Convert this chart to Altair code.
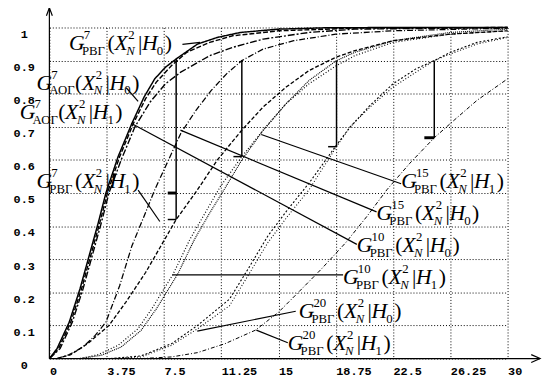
import altair as alt
import pandas as pd

# ---------------- geometry of the plot area ----------------
X_MAX = 30.0
PLOT_W, PLOT_H = 465, 336
DX = X_MAX / PLOT_W      # data units per pixel (x)
DY = 1.0 / PLOT_H        # data units per pixel (y)

x_ticks = [0, 3.75, 7.5, 11.25, 15, 18.75, 22.5, 26.25, 30]
y_ticks = [0, 0.1, 0.2, 0.3, 0.4, 0.5, 0.6, 0.7, 0.8, 0.9, 1]

# ---------------- curves ----------------
g7_rvg_h0_x = [0, 0.5, 1.3, 2.0, 2.6, 3.2, 3.7, 4.5, 5.4, 6.2, 6.9, 7.6, 8.3, 9.7, 11.0, 12.5, 15.0, 18.0, 22.5, 30.0]
g7_rvg_h0_y = [0, 0.03, 0.11, 0.21, 0.31, 0.41, 0.50, 0.61, 0.71, 0.79, 0.845, 0.88, 0.905, 0.95, 0.97, 0.985, 0.995, 0.999, 1.0, 1.0]

g7_aog_h0_x = [0, 0.6, 1.4, 2.1, 2.7, 3.3, 3.8, 4.6, 5.5, 6.3, 7.0, 8.0, 9.0, 10.5, 12.0, 15.0, 20.0, 30.0]
g7_aog_h0_y = [0, 0.03, 0.11, 0.21, 0.31, 0.41, 0.50, 0.61, 0.71, 0.785, 0.835, 0.885, 0.925, 0.955, 0.975, 0.99, 0.998, 1.0]

g7_aog_h1_x = [0, 0.7, 1.5, 2.2, 2.8, 3.4, 3.9, 4.7, 5.6, 6.6, 7.6, 8.6, 10.5, 12.0, 14.0, 17.0, 20.0, 30.0]
g7_aog_h1_y = [0, 0.03, 0.11, 0.21, 0.31, 0.41, 0.50, 0.60, 0.70, 0.775, 0.83, 0.865, 0.915, 0.94, 0.965, 0.985, 0.995, 1.0]

g7_rvg_h1_x = [0.5, 1.4, 2.5, 3.9, 5.0, 6.3, 7.3, 8.3, 9.7, 11.0, 12.6, 14.0, 15.5, 17.0, 18.75, 20.0, 22.5, 26.25, 30.0]
g7_rvg_h1_y = [0, 0.012, 0.045, 0.10, 0.17, 0.26, 0.34, 0.42, 0.51, 0.60, 0.69, 0.76, 0.82, 0.87, 0.91, 0.93, 0.96, 0.98, 0.99]

g10_h0_x = [0.5, 1.3, 2.2, 3.0, 3.7, 4.6, 5.4, 6.2, 6.9, 7.8, 8.6, 9.6, 10.6, 11.6, 12.6, 14.0, 16.0, 18.75, 22.5, 30.0]
g10_h0_y = [0, 0.012, 0.035, 0.07, 0.11, 0.22, 0.34, 0.43, 0.51, 0.60, 0.68, 0.75, 0.81, 0.86, 0.90, 0.935, 0.96, 0.98, 0.99, 0.998]

g10_h1_x = [2.0, 3.2, 4.5, 5.8, 6.7, 7.5, 8.1, 9.2, 10.2, 11.2, 12.6, 14.0, 15.5, 17.0, 18.8, 20.0, 22.5, 26.25, 30.0]
g10_h1_y = [0, 0.012, 0.04, 0.09, 0.15, 0.21, 0.255, 0.36, 0.44, 0.52, 0.61, 0.69, 0.77, 0.83, 0.885, 0.915, 0.955, 0.98, 0.99]

g15_h0_x = [2.0, 3.4, 4.7, 6.0, 7.0, 7.8, 8.4, 9.5, 10.5, 11.5, 12.6, 14.0, 15.5, 17.0, 18.8, 20.0, 22.5, 26.25, 30.0]
g15_h0_y = [0, 0.01, 0.035, 0.085, 0.15, 0.21, 0.255, 0.36, 0.44, 0.515, 0.60, 0.69, 0.77, 0.84, 0.90, 0.925, 0.96, 0.985, 0.995]

g15_h1_x = [4.0, 6.0, 8.0, 9.7, 11.8, 13.0, 14.3, 15.6, 17.0, 18.8, 19.7, 21.0, 22.5, 24.0, 25.2, 26.25, 28.0, 30.0]
g15_h1_y = [0, 0.008, 0.045, 0.10, 0.18, 0.27, 0.37, 0.45, 0.53, 0.645, 0.70, 0.765, 0.83, 0.875, 0.90, 0.925, 0.955, 0.972]

g20_h0_x = [4.0, 6.0, 8.0, 9.7, 11.8, 13.0, 14.3, 15.6, 17.0, 18.8, 19.7, 21.0, 22.5, 24.0, 25.2, 26.25, 28.0, 30.0]
g20_h0_y = [0, 0.005, 0.04, 0.09, 0.16, 0.25, 0.35, 0.43, 0.51, 0.64, 0.70, 0.76, 0.82, 0.865, 0.90, 0.92, 0.95, 0.97]

g20_h1_x = [6.0, 8.0, 9.7, 11.5, 13.5, 15.0, 16.3, 17.8, 19.4, 20.8, 22.1, 23.6, 25.2, 26.5, 28.0, 30.0]
g20_h1_y = [0, 0.005, 0.018, 0.045, 0.086, 0.14, 0.20, 0.27, 0.35, 0.43, 0.51, 0.59, 0.667, 0.72, 0.78, 0.845]

curve_names = ["g7_rvg_h0", "g7_aog_h0", "g7_aog_h1", "g7_rvg_h1", "g10_h0",
               "g10_h1", "g15_h0", "g15_h1", "g20_h0", "g20_h1"]
curve_xs = [g7_rvg_h0_x, g7_aog_h0_x, g7_aog_h1_x, g7_rvg_h1_x, g10_h0_x,
            g10_h1_x, g15_h0_x, g15_h1_x, g20_h0_x, g20_h1_x]
curve_ys = [g7_rvg_h0_y, g7_aog_h0_y, g7_aog_h1_y, g7_rvg_h1_y, g10_h0_y,
            g10_h1_y, g15_h0_y, g15_h1_y, g20_h0_y, g20_h1_y]
curve_dash = [[1, 0], [5, 2], [7, 2, 2, 2], [4, 2], [6, 2, 1, 2],
              [1, 2], [1, 1], [2, 2], [1, 2], [4, 2, 1, 2]]
curve_width = [1.5, 1, 1, 1, 1, 1, 1, 1, 1, 1]

# ---------------- critical-value bars ----------------
bar_x = [8.3, 12.6, 18.8, 25.2]
bar_top = [0.905, 0.9, 0.9, 0.9]
bar_bottom = [0.42, 0.61, 0.64, 0.667]
tick_thin = [[7.75, 8.3, 0.42], [12.05, 12.6, 0.61], [18.25, 18.8, 0.64]]
tick_thick = [[7.75, 8.3, 0.5], [24.55, 25.2, 0.667]]

# ---------------- leader lines ----------------
leader_x1 = [8.71, 5.03, 5.35, 8.58, 13.87, 5.81, 8.06, 9.68, 13.55]
leader_y1 = [0.949, 0.818, 0.711, 0.690, 0.677, 0.509, 0.253, 0.083, 0.086]
leader_x2 = [9.87, 5.81, 20.13, 21.42, 23.03, 7.23, 19.23, 16.13, 15.61]
leader_y2 = [0.955, 0.777, 0.345, 0.443, 0.528, 0.414, 0.253, 0.143, 0.048]

# ---------------- labels ----------------
label_x = [1.29, -0.84, -1.94, -0.84, 23.03, 21.42, 20.13, 19.23, 16.32, 15.61]
label_y = [0.9315, 0.8125, 0.723, 0.515, 0.515, 0.4196, 0.321, 0.226, 0.122, 0.0268]
label_sup = ["7", "7", "7", "7", "15", "15", "10", "10", "20", "20"]
label_sub = ["РВГ", "АОГ", "АОГ", "РВГ", "РВГ", "РВГ", "РВГ", "РВГ", "РВГ", "РВГ"]
label_h = ["0", "0", "1", "1", "1", "0", "0", "1", "0", "1"]

# ---------------- build tables ----------------
rows = []
for name, xs_, ys_ in zip(curve_names, curve_xs, curve_ys):
    for i, (a, b) in enumerate(zip(xs_, ys_)):
        rows.append({"series": name, "i": i, "x": a, "y": b})
curve_df = pd.DataFrame(rows)

bars_df = pd.DataFrame({"x": bar_x, "y": bar_top, "y2": bar_bottom})
thin_df = pd.DataFrame(tick_thin, columns=["x", "x2", "y"])
thick_df = pd.DataFrame(tick_thick, columns=["x", "x2", "y"])
lead_df = pd.DataFrame({"x": leader_x1, "y": leader_y1, "x2": leader_x2, "y2": leader_y2})

# label pieces: (text-key, dx px, dy px (up), class)
layout = [("G", 0, 0, "big_it"), ("SUP", 15, 11, "small"), ("SUB", 13, -5, "small"),
          ("(", 39, 0, "big"), ("X", 46, 0, "big_it"), ("2", 60, 11, "small"),
          ("N", 58, -5, "small_it"), ("|", 70, 0, "big"), ("H", 74, 0, "big_it"),
          ("HIDX", 89, -5, "small"), (")", 97, 0, "big")]
pieces = []
for lx, ly, sp, sb, hh in zip(label_x, label_y, label_sup, label_sub, label_h):
    for key, ddx, ddy, cls in layout:
        txt = {"SUP": sp, "SUB": sb, "HIDX": hh}.get(key, key)
        pieces.append({"x": lx + ddx * DX, "y": ly + ddy * DY, "t": txt, "cls": cls})
pieces_df = pd.DataFrame(pieces)

# axis arrows (decoration, derived from the domain)
ax_rows = [
    {"g": "ya", "i": 0, "x": 0, "y": 0}, {"g": "ya", "i": 1, "x": 0, "y": 1 + 20 * DY},
    {"g": "yh", "i": 0, "x": -3 * DX, "y": 1 + 12 * DY}, {"g": "yh", "i": 1, "x": 0, "y": 1 + 20 * DY},
    {"g": "yh", "i": 2, "x": 3 * DX, "y": 1 + 12 * DY},
    {"g": "xa", "i": 0, "x": 0, "y": 0}, {"g": "xa", "i": 1, "x": X_MAX + 33 * DX, "y": 0},
    {"g": "xh", "i": 0, "x": X_MAX + 24 * DX, "y": 4 * DY}, {"g": "xh", "i": 1, "x": X_MAX + 33 * DX, "y": 0},
    {"g": "xh", "i": 2, "x": X_MAX + 24 * DX, "y": -4 * DY},
]
axes_df = pd.DataFrame(ax_rows)

# ---------------- scales & axes ----------------
XS = alt.Scale(domain=[0, X_MAX], nice=False, zero=False)
YS = alt.Scale(domain=[0, 1], nice=False, zero=False)
common_axis = dict(grid=True, gridDash=[1, 2], gridColor="black", gridOpacity=1, gridWidth=1,
                   domain=False, ticks=False, tickSize=0, labelFont="Liberation Mono",
                   labelFontWeight="bold", labelFontSize=12, labelColor="black",
                   labelFlush=False, labelOverlap=False, title=None, format=".6~g")
AX = alt.Axis(values=x_ticks, labelAlign="left", labelBaseline="top", labelPadding=7, **common_axis)
AY = alt.Axis(values=y_ticks, labelAlign="center", labelBaseline="top", labelPadding=26,
              labelOffset=1, **common_axis)


def X(f="x"):
    return alt.X(f"{f}:Q", scale=XS, axis=AX)


def Y(f="y"):
    return alt.Y(f"{f}:Q", scale=YS, axis=AY)


curves = alt.Chart(curve_df).mark_line(color="black", clip=False).encode(
    x=X(), y=Y(), order="i:Q",
    detail="series:N",
    strokeDash=alt.StrokeDash("series:N", scale=alt.Scale(domain=curve_names, range=curve_dash), legend=None),
    strokeWidth=alt.StrokeWidth("series:N", scale=alt.Scale(domain=curve_names, range=curve_width), legend=None),
)

axis_lines = alt.Chart(axes_df).mark_line(color="black", strokeWidth=1.2).encode(
    x=X(), y=Y(), detail="g:N", order="i:Q")

bars = alt.Chart(bars_df).mark_rule(color="black", strokeWidth=1.5).encode(
    x=X(), y=Y(), y2="y2:Q")
thin = alt.Chart(thin_df).mark_rule(color="black", strokeWidth=1.5).encode(
    x=X(), x2="x2:Q", y=Y())
thick = alt.Chart(thick_df).mark_rule(color="black", strokeWidth=3).encode(
    x=X(), x2="x2:Q", y=Y())
leaders = alt.Chart(lead_df).mark_rule(color="black", strokeWidth=1.2).encode(
    x=X(), y=Y(), x2="x2:Q", y2="y2:Q")


def text_layer(cls, size, style):
    return alt.Chart(pieces_df).transform_filter(alt.datum.cls == cls).mark_text(
        font="Liberation Serif", fontSize=size, fontStyle=style, align="left",
        baseline="alphabetic", color="black").encode(x=X(), y=Y(), text="t:N")


labels = [text_layer("big_it", 22, "italic"), text_layer("big", 22, "normal"),
          text_layer("small", 13, "normal"), text_layer("small_it", 13, "italic")]

chart = alt.layer(curves, axis_lines, bars, thin, thick, leaders, *labels).properties(
    width=PLOT_W, height=PLOT_H,
    padding={"left": 42, "top": 17, "right": 40, "bottom": 22},
    autosize=alt.AutoSizeParams(type="none"),
    background="white",
).configure_view(stroke=None)

chart.save("out.html", embed_options={"renderer": "svg", "actions": False})
